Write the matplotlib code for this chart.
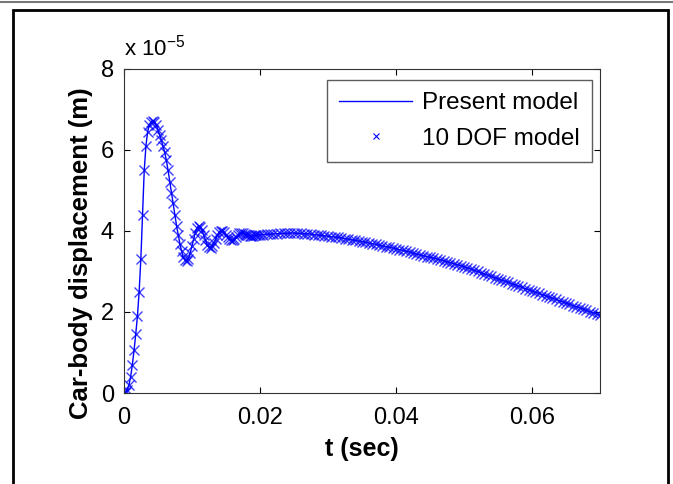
import numpy as np
import matplotlib.pyplot as plt
from matplotlib.patches import Rectangle
from matplotlib.lines import Line2D

plt.rcParams['font.family'] = ['Liberation Sans Narrow', 'Liberation Sans', 'DejaVu Sans']
plt.rcParams['mathtext.default'] = 'regular'

# time grids (s) and car-body displacement (x 1e-5 m)
t_early = np.arange(80) * 0.00025
y_early = [0.00, 0.02, 0.08, 0.20, 0.40, 0.70, 1.05, 1.45, 1.90, 2.50,
           3.30, 4.40, 5.50, 6.10, 6.45, 6.62, 6.70, 6.72, 6.70, 6.62,
           6.50, 6.38, 6.25, 6.10, 5.95, 5.75, 5.50, 5.22, 4.95, 4.68,
           4.40, 4.13, 3.90, 3.68, 3.50, 3.35, 3.28, 3.27, 3.32, 3.45,
           3.62, 3.80, 3.96, 4.08, 4.12, 4.10, 4.02, 3.90, 3.78, 3.66,
           3.60, 3.58, 3.62, 3.70, 3.80, 3.90, 3.97, 4.01, 4.01, 3.97,
           3.90, 3.84, 3.79, 3.77, 3.77, 3.80, 3.85, 3.90, 3.94, 3.95,
           3.95, 3.93, 3.91, 3.89, 3.88, 3.88, 3.88, 3.89, 3.89, 3.90]

t_late = 0.02 + np.arange(101) * 0.0005
y_late = [3.90, 3.91, 3.92, 3.92, 3.93, 3.93, 3.94, 3.94, 3.94, 3.95,
          3.95, 3.94, 3.94, 3.93, 3.93, 3.92, 3.91, 3.90, 3.89, 3.88,
          3.87, 3.86, 3.85, 3.84, 3.83, 3.81, 3.80, 3.78, 3.77, 3.75,
          3.74, 3.72, 3.70, 3.69, 3.67, 3.65, 3.63, 3.61, 3.60, 3.58,
          3.56, 3.54, 3.52, 3.50, 3.48, 3.45, 3.43, 3.41, 3.39, 3.37,
          3.35, 3.33, 3.31, 3.29, 3.26, 3.24, 3.22, 3.19, 3.17, 3.14,
          3.12, 3.09, 3.06, 3.03, 3.00, 2.97, 2.94, 2.91, 2.88, 2.85,
          2.82, 2.79, 2.76, 2.73, 2.70, 2.67, 2.64, 2.61, 2.58, 2.55,
          2.52, 2.49, 2.46, 2.43, 2.40, 2.37, 2.34, 2.31, 2.28, 2.25,
          2.22, 2.19, 2.16, 2.13, 2.10, 2.07, 2.04, 2.01, 1.98, 1.95,
          1.92]

t = np.concatenate([t_early, t_late])
y = np.concatenate([y_early, y_late])

fig = plt.figure(figsize=(6.73, 4.84), dpi=100)
ax = fig.add_axes([0.184, 0.188, 0.7075, 0.6695])

ax.plot(t, y, color='blue', lw=1.0, label='Present model')
ax.plot(t, y, ls='none', marker='x', ms=7.5, mew=1.0, color='blue',
        alpha=0.75, label='10 DOF model')

ax.set_xlim(0, 0.07)
ax.set_ylim(0, 8)
ax.set_xticks([0, 0.02, 0.04, 0.06])
ax.set_xticklabels(['0', '0.02', '0.04', '0.06'])
ax.set_yticks([0, 2, 4, 6, 8])
ax.tick_params(direction='in', top=True, right=True, length=4,
               labelsize=17, pad=7)
ax.tick_params(axis='x', pad=10)
for s in ax.spines.values():
    s.set_color('#333333')

ax.set_xlabel('t (sec)', fontsize=18, fontweight='bold', labelpad=6)
ax.set_ylabel('Car-body displacement (m)', fontsize=18.5, fontweight='bold',
              family=['Liberation Sans', 'DejaVu Sans'])
ax.yaxis.set_label_coords(-0.065, 0.43)
ax.text(0.0, 1.025, 'x 10$^{-5}$', transform=ax.transAxes, fontsize=16,
        ha='left', va='bottom')

handles = [Line2D([], [], color='blue', lw=1.0),
           Line2D([], [], ls='none', marker='x', ms=5, mew=0.8, color='blue')]
leg = ax.legend(handles, ['Present model', '10 DOF model'], loc='upper right',
                bbox_to_anchor=(0.983, 0.966), frameon=True,
                prop={'family': ['Liberation Sans', 'DejaVu Sans'], 'size': 17.5},
                fancybox=False, edgecolor='#333333', handlelength=3.0,
                handletextpad=0.4, borderaxespad=0, borderpad=0.5,
                labelspacing=0.55)
leg.get_frame().set_linewidth(1.0)

# outer frame around the figure
fig.add_artist(Rectangle((13 / 673, -0.02), 655 / 673, 1.02 - 10 / 484,
                         transform=fig.transFigure, fill=False,
                         edgecolor='black', lw=2))
fig.add_artist(Line2D([0, 1], [1 - 2 / 484, 1 - 2 / 484],
                      transform=fig.transFigure, color='#777777', lw=1.5))

fig.savefig('out.png', dpi=100)
